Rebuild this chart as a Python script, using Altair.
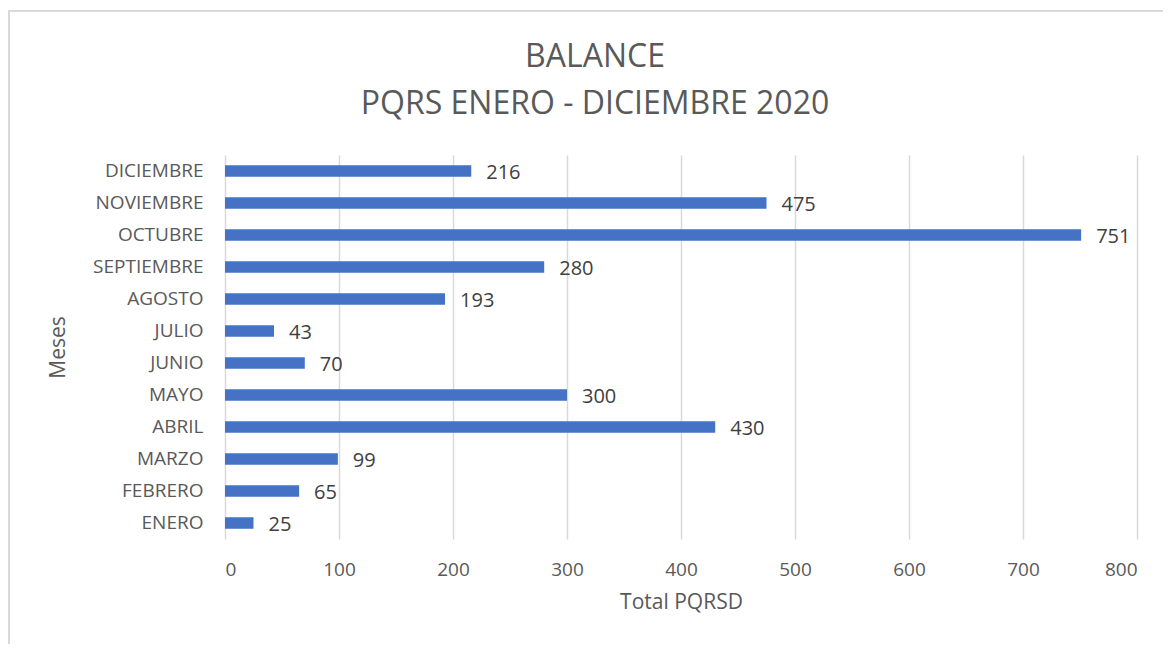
import altair as alt
import pandas as pd

meses = ["ENERO", "FEBRERO", "MARZO", "ABRIL", "MAYO", "JUNIO", "JULIO",
         "AGOSTO", "SEPTIEMBRE", "OCTUBRE", "NOVIEMBRE", "DICIEMBRE"]
totales = [25, 65, 99, 430, 300, 70, 43, 193, 280, 751, 475, 216]
x_ticks = [0, 100, 200, 300, 400, 500, 600, 700, 800]

df = pd.DataFrame({"Meses": meses, "Total": totales})
order = list(reversed(meses))

FONT = "Open Sans"
GREY = "#595959"

y_enc = alt.Y("Meses:N", sort=order, title="Meses",
              scale=alt.Scale(paddingInner=0.64, paddingOuter=0.32),
              axis=alt.Axis(labelFont=FONT, labelFontSize=19, labelColor=GREY,
                            labelPadding=22, ticks=False, domain=False,
                            titleFont=FONT, titleFontSize=21, titleColor=GREY,
                            titleFontWeight="normal", titlePadding=24))
x_enc = alt.X("Total:Q", title="Total PQRSD",
              scale=alt.Scale(domain=[0, 800], nice=False),
              axis=alt.Axis(values=x_ticks, labelFont=FONT, labelFontSize=19,
                            labelColor=GREY, labelPadding=21, ticks=False,
                            domain=False, grid=True, gridColor="#d9d9d9",
                            gridWidth=1.5, titleFont=FONT, titleFontSize=21,
                            titleColor=GREY, titleFontWeight="normal",
                            titlePadding=12))

bars = alt.Chart(df).mark_bar(color="#4472C4").encode(x=x_enc, y=y_enc)
labels = alt.Chart(df).mark_text(align="left", baseline="middle", dx=15, dy=2,
                                 font=FONT, fontSize=20, color="#404040").encode(
    x="Total:Q", y=alt.Y("Meses:N", sort=order), text="Total:Q")

border = alt.Chart(pd.DataFrame({"k": [0]})).mark_rect(
    fill=None, stroke="#d9d9d9", strokeWidth=2).encode(
    x=alt.value(-216), x2=alt.value(945), y=alt.value(-144), y2=alt.value(520))

chart = alt.layer(border, bars, labels).properties(
    width=912, height=384,
    autosize=alt.AutoSizeParams(type="none"),
    padding={"left": 217, "top": 147, "right": 26, "bottom": 105},
    title=alt.TitleParams(text=["BALANCE", "PQRS ENERO - DICIEMBRE 2020"],
                          font=FONT, fontSize=32, fontWeight="normal",
                          color=GREY, anchor="middle", dx=-86, offset=-111,
                          lineHeight=47),
).configure_view(stroke=None)

chart.save("out.html", embed_options={"renderer": "svg", "actions": False})
